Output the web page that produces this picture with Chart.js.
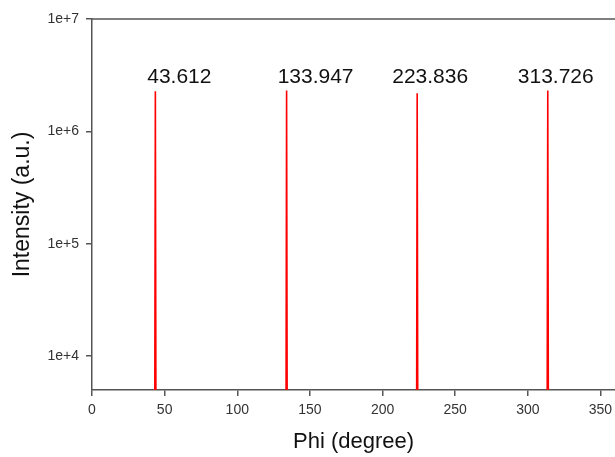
<!DOCTYPE html>
<html>
<head>
<meta charset="utf-8">
<script src="https://cdn.jsdelivr.net/npm/chart.js@4/dist/chart.umd.min.js"></script>
<style>
  html, body { margin: 0; padding: 0; background: #fff; }
  #wrap { width: 615px; height: 457px; position: relative; }
</style>
</head>
<body>
<div id="wrap"><canvas id="phiChart"></canvas></div>
<script>
// Phi scan data
const phiScan = [0, 43.0, 43.612, 44.2, 133.35, 133.947, 134.55, 223.25, 223.836, 224.45, 313.1, 313.726, 314.35, 360];
const intensity = [100, 100, 2270000, 100, 100, 2310000, 100, 100, 2180000, 100, 100, 2310000, 100, 100];

// Peak annotations
const peakPhi = [43.612, 133.947, 223.836, 313.726];
const peakLabels = ["43.612", "133.947", "223.836", "313.726"];

// Axis ticks
const xTicks = [0, 50, 100, 150, 200, 250, 300, 350];
const yTicks = [1e4, 1e5, 1e6, 1e7];
const yTickLabels = ["1e+4", "1e+5", "1e+6", "1e+7"];

const FONT = "'Liberation Sans', Arial, sans-serif";
const AXIS = "#555";

const points = phiScan.map((x, i) => ({ x: x, y: intensity[i] }));

// draws the top frame line and the peak labels
const framePlugin = {
  id: "frame",
  afterDatasetsDraw(chart, args, opts) {
    const ctx = chart.ctx;
    const area = chart.chartArea;
    const xs = chart.scales.x;
    ctx.save();
    ctx.strokeStyle = AXIS;
    ctx.lineWidth = 1.5;
    ctx.beginPath();
    ctx.moveTo(area.left, area.top);
    ctx.lineTo(chart.width, area.top);
    ctx.stroke();

    ctx.fillStyle = "#111";
    ctx.font = "21px " + FONT;
    ctx.textAlign = "center";
    ctx.textBaseline = "alphabetic";
    peakPhi.forEach((p, i) => {
      const x = xs.getPixelForValue(p) + opts.dx[i];
      ctx.fillText(peakLabels[i], x, area.top + opts.baseline);
    });
    ctx.restore();
  }
};

new Chart(document.getElementById("phiChart"), {
  type: "line",
  data: {
    datasets: [
      {
        data: points,
        borderColor: "#ff0000",
        borderWidth: 1.6,
        pointRadius: 0,
        tension: 0,
        fill: false,
      },
    ],
  },
  options: {
    responsive: true,
    maintainAspectRatio: false,
    animation: false,
    layout: { padding: { top: 19, right: 0, left: 0, bottom: 0 } },
    plugins: {
      legend: { display: false },
      tooltip: { enabled: false },
      frame: { dx: [24, 29, 13, 8], baseline: 64 },
    },
    scales: {
      x: {
        type: "linear",
        min: 0,
        max: 360,
        afterBuildTicks: (scale) => {
          scale.ticks = xTicks.map((v) => ({ value: v }));
        },
        afterFit: (scale) => {
          scale.height = 67;
          scale.paddingLeft = 0;
          scale.paddingRight = 0;
        },
        border: { display: true, color: AXIS, width: 1.5 },
        grid: { drawOnChartArea: false, drawTicks: true, tickLength: 6, color: AXIS, lineWidth: 1.5 },
        ticks: {
          color: "#333",
          padding: 6,
          maxRotation: 0,
          font: { family: FONT, size: 14 },
        },
        title: {
          display: true,
          text: "Phi (degree)",
          color: "#111",
          font: { family: FONT, size: 22 },
          padding: { top: 0, bottom: 2 },
        },
      },
      y: {
        type: "logarithmic",
        min: 5000,
        max: 1e7,
        afterBuildTicks: (scale) => {
          scale.ticks = yTicks.map((v) => ({ value: v }));
        },
        afterFit: (scale) => {
          scale.width = 92;
          scale.paddingTop = 0;
          scale.paddingBottom = 0;
        },
        border: { display: true, color: AXIS, width: 1.5 },
        grid: { drawOnChartArea: false, drawTicks: true, tickLength: 6, color: AXIS, lineWidth: 1.5 },
        ticks: {
          color: "#333",
          padding: 7,
          font: { family: FONT, size: 14 },
          callback: (value) => {
            const i = yTicks.indexOf(value);
            return i >= 0 ? yTickLabels[i] : "";
          },
        },
        title: {
          display: true,
          text: "Intensity (a.u.)",
          color: "#111",
          font: { family: FONT, size: 23 },
          padding: { top: 9, bottom: 0 },
        },
      },
    },
  },
  plugins: [framePlugin],
});
</script>
</body>
</html>
